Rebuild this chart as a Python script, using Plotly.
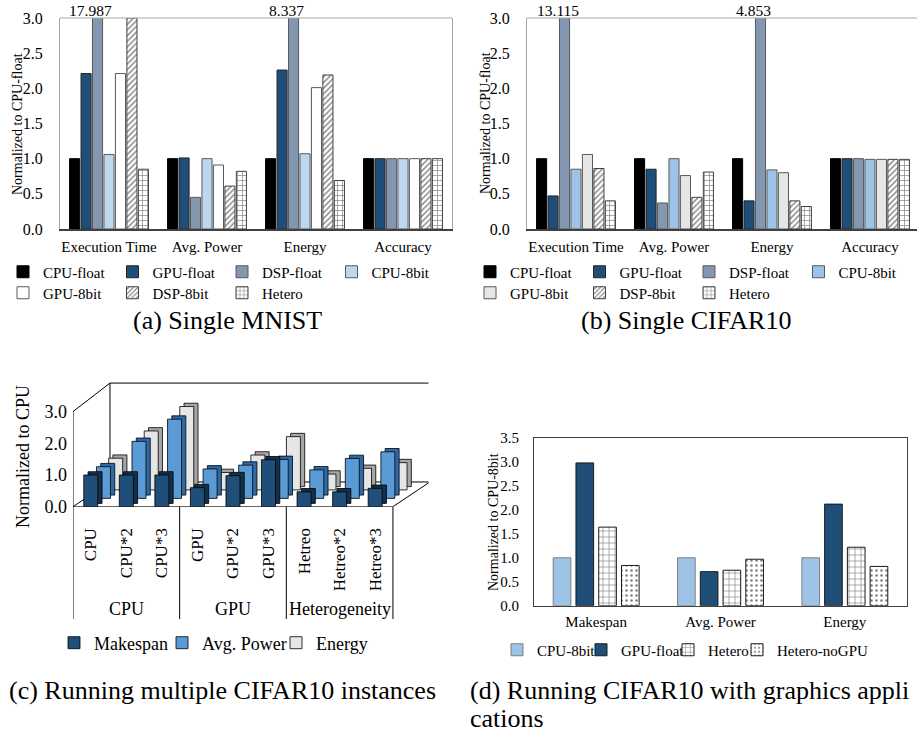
import plotly.graph_objects as go

W, H = 917, 732
FONT = "'Liberation Serif', 'Times New Roman', Times, serif"

# ---------------- data ----------------
# (a) Single MNIST / (b) Single CIFAR10, normalized to CPU-float
metrics_ab = ["Execution Time", "Avg. Power", "Energy", "Accuracy"]

mnist_cpu_float = [1.0, 1.0, 1.0, 1.0]
mnist_gpu_float = [2.21, 1.01, 2.26, 1.0]
mnist_dsp_float = [17.987, 0.45, 8.337, 1.0]
mnist_cpu_8bit = [1.06, 1.0, 1.07, 1.0]
mnist_gpu_8bit = [2.21, 0.91, 2.01, 1.0]
mnist_dsp_8bit = [3.0, 0.61, 2.19, 1.0]
mnist_hetero = [0.85, 0.82, 0.69, 1.0]

cifar_cpu_float = [1.0, 1.0, 1.0, 1.0]
cifar_gpu_float = [0.47, 0.85, 0.40, 1.0]
cifar_dsp_float = [13.115, 0.37, 4.853, 1.0]
cifar_cpu_8bit = [0.85, 1.0, 0.84, 0.99]
cifar_gpu_8bit = [1.06, 0.76, 0.80, 0.99]
cifar_dsp_8bit = [0.86, 0.45, 0.40, 0.99]
cifar_hetero = [0.40, 0.81, 0.32, 0.99]

# (c) Running multiple CIFAR10 instances, normalized to CPU
instances = ["CPU", "CPU*2", "CPU*3", "GPU", "GPU*2", "GPU*3", "Hetreo", "Hetreo*2", "Hetreo*3"]
instance_groups = ["CPU", "GPU", "Heterogeneity"]
makespan = [1.0, 1.0, 1.0, 0.6, 0.98, 1.48, 0.47, 0.47, 0.58]
avg_power = [1.0, 1.8, 2.5, 0.93, 1.05, 1.23, 0.9, 1.26, 1.47]
energy = [1.0, 1.86, 2.63, 0.55, 1.1, 1.68, 0.5, 0.68, 0.86]

# (d) Running CIFAR10 with graphics applications, normalized to CPU-8bit
metrics_d = ["Makespan", "Avg. Power", "Energy"]
d_cpu_8bit = [1.0, 1.0, 1.0]
d_gpu_float = [2.98, 0.71, 2.12]
d_hetero = [1.64, 0.74, 1.22]
d_hetero_nogpu = [0.84, 0.97, 0.82]


def fx(p):
    return p / W


def fy(p):
    return 1 - p / H


HATCH = dict(shape="/", fgcolor="#000000", bgcolor="#ffffff", size=4, solidity=0.35)
BRICK = dict(shape="+", fgcolor="#000000", bgcolor="#ffffff", size=5, solidity=0.25)
BRICK_D = dict(shape="+", fgcolor="#000000", bgcolor="#ffffff", size=6, solidity=0.2)
DOTS = dict(shape=".", fgcolor="#000000", bgcolor="#ffffff", size=5, solidity=0.2)

fig = go.Figure()


def marker(fill, line, pattern=None, lw=1):
    m = dict(color=fill, line=dict(color=line, width=lw))
    if pattern is not None:
        m["pattern"] = pattern
    return m


def add_grouped(series, xcats, xa, ya, width, pitch, legends):
    n = len(series)
    first = -pitch * n / 2 + (pitch - width) / 2
    centers = []
    for i, (name, vals, fill, line, pat) in enumerate(series):
        off = first + i * pitch
        centers.append(off + width / 2)
        fig.add_trace(go.Bar(
            x=xcats, y=vals, name=name, xaxis=xa, yaxis=ya,
            width=width, offset=off, marker=marker(fill, line, pat),
            legend=legends[i], hoverinfo="x+y+name",
        ))
    return centers


# ---- (a) ----
series_a = [
    ("CPU-float", mnist_cpu_float, "#000000", "#000000", None),
    ("GPU-float", mnist_gpu_float, "#1f4e79", "#262626", None),
    ("DSP-float", mnist_dsp_float, "#8497b0", "#595959", None),
    ("CPU-8bit", mnist_cpu_8bit, "#bdd7ee", "#595959", None),
    ("GPU-8bit", mnist_gpu_8bit, "#ffffff", "#595959", None),
    ("DSP-8bit", mnist_dsp_8bit, "#ffffff", "#404040", HATCH),
    ("Hetero", mnist_hetero, "#ffffff", "#404040", BRICK),
]
cent_a = add_grouped(series_a, metrics_ab, "x", "y", 0.103, 0.117,
                     ["legend"] * 4 + ["legend2"] * 3)

# ---- (b) ----
series_b = [
    ("CPU-float", cifar_cpu_float, "#000000", "#000000", None),
    ("GPU-float", cifar_gpu_float, "#1f4e79", "#262626", None),
    ("DSP-float", cifar_dsp_float, "#8497b0", "#595959", None),
    ("CPU-8bit", cifar_cpu_8bit, "#9dc3e6", "#595959", None),
    ("GPU-8bit", cifar_gpu_8bit, "#e7e6e6", "#595959", None),
    ("DSP-8bit", cifar_dsp_8bit, "#ffffff", "#404040", HATCH),
    ("Hetero", cifar_hetero, "#ffffff", "#404040", BRICK),
]
cent_b = add_grouped(series_b, metrics_ab, "x2", "y2", 0.103, 0.117,
                     ["legend3"] * 4 + ["legend4"] * 3)

# ---- (c) pseudo-3D columns ----
C_W = 0.394
SIDE_DX, SIDE_DY = 0.12, 0.104
ROWS = [  # back to front
    ("Energy", energy, "#e7e6e6", "#a6a6a6", 0.70, 0.53, 3, 60),
    ("Avg. Power", avg_power, "#5b9bd5", "#2e6aa8", 0.357, 0.262, 2, 69),
    ("Makespan", makespan, "#1f4e79", "#142f4a", 0.0, 0.0, 1, 63),
]
for name, vals, face, side, dx, dy, rank, lwid in ROWS:
    fig.add_trace(go.Bar(
        x=instances, y=vals, base=dy + SIDE_DY, offset=-C_W / 2 + dx + SIDE_DX, width=C_W,
        xaxis="x3", yaxis="y3", marker=marker(side, "#000000", lw=0.8),
        showlegend=False, hoverinfo="skip",
    ))
    fig.add_trace(go.Bar(
        x=instances, y=vals, base=dy, offset=-C_W / 2 + dx, width=C_W,
        xaxis="x3", yaxis="y3", name=name, marker=marker(face, "#000000", lw=0.8),
        legend="legend5", legendrank=rank, legendwidth=lwid,
    ))

# ---- (d) ----
series_d = [
    ("CPU-8bit", d_cpu_8bit, "#9dc3e6", "#7f7f7f", None),
    ("GPU-float", d_gpu_float, "#1f4e79", "#1a1a1a", None),
    ("Hetero", d_hetero, "#ffffff", "#1a1a1a", BRICK_D),
    ("Hetero-noGPU", d_hetero_nogpu, "#ffffff", "#1a1a1a", DOTS),
]
add_grouped(series_d, metrics_d, "x4", "y4", 0.142, 0.183, ["legend6"] * 4)
for tr, lw in zip(fig.data[-4:], [39, 42, 24, 90]):
    tr.legendwidth = lw

# ---------------- axes ----------------
GRAY = "#a6a6a6"


def tfont(size):
    return dict(family=FONT, size=size, color="#000000")


def cat_axis(domain, anchor, rng, standoff=3):
    return dict(domain=domain, anchor=anchor, range=rng, type="category",
                showgrid=False, zeroline=False, showline=True, linecolor="#404040",
                linewidth=1.5, ticks="", ticklabelstandoff=standoff,
                tickfont=tfont(15), fixedrange=True)


def val_axis(domain, anchor, rng, dtick, tstand=13, size=16):
    return dict(domain=domain, anchor=anchor, range=rng, dtick=dtick, tickformat=".1f",
                showgrid=False, zeroline=False, showline=True, mirror=True, linecolor=GRAY,
                ticks="", ticklabelstandoff=tstand, tickfont=tfont(size), fixedrange=True)


fig.update_layout(
    xaxis=cat_axis([fx(60), fx(452)], "y", [-0.5, 3.5]),
    yaxis=val_axis([fy(229), fy(18)], "x", [0, 3], 0.5),
    xaxis2=cat_axis([fx(527), 1.0], "y2", [-0.5, 3.48]),
    yaxis2=val_axis([fy(229), fy(18)], "x2", [0, 3], 0.5),
    xaxis3=dict(domain=[fx(73), fx(428.5)], anchor="y3", range=[-0.5, 9.5], type="category",
                showgrid=False, zeroline=False, showline=False, ticks="", tickangle=-90,
                ticklabelstandoff=17, tickfont=tfont(17), fixedrange=True),
    yaxis3=dict(domain=[fy(506.7), fy(379.9)], anchor="x3", range=[0, 4.0],
                tickvals=[0, 1, 2, 3], tickformat=".1f", showgrid=False, zeroline=False,
                showline=False, ticks="", ticklabelstandoff=5, tickfont=tfont(18),
                fixedrange=True),
    xaxis4=cat_axis([fx(534), fx(907)], "y4", [-0.5, 2.5], standoff=2),
    yaxis4=val_axis([fy(605.7), fy(438)], "x4", [0, 3.5], 0.5, tstand=11, size=15),
)
fig.layout.xaxis4.mirror = True
fig.layout.yaxis4.linecolor = "#404040"
fig.layout.xaxis4.linecolor = "#404040"
fig.layout.xaxis4.linewidth = 1

# ---------------- shapes ----------------
shapes = []
for xa, ya in [("x", "y"), ("x2", "y2")]:
    shapes.append(dict(type="line", xref=f"{xa} domain", yref=f"{ya} domain",
                       x0=0, x1=1, y0=1, y1=1, line=dict(color=GRAY, width=1)))

# (c) walls and floor
DEPTH_X, DEPTH_Y, WALL_TOP, BACK_TOP = 1.04, 0.78, 3.0, 3.9
n_c = len(instances)
L, R = -0.5, n_c - 0.5
wall_lines = [
    (L, 0, R, 0), (R, 0, R + DEPTH_X, DEPTH_Y), (L + DEPTH_X, DEPTH_Y, R + DEPTH_X, DEPTH_Y),
    (L, 0, L + DEPTH_X, DEPTH_Y), (L, 0, L, WALL_TOP), (L, WALL_TOP, L + DEPTH_X, BACK_TOP),
    (L + DEPTH_X, DEPTH_Y, L + DEPTH_X, BACK_TOP), (L + DEPTH_X, BACK_TOP, R + DEPTH_X, BACK_TOP),
    (R + DEPTH_X, BACK_TOP, R + DEPTH_X, DEPTH_Y),
]
for x0, y0, x1, y1 in wall_lines:
    shapes.append(dict(type="line", xref="x3", yref="y3", x0=x0, y0=y0, x1=x1, y1=y1,
                       layer="below", line=dict(color="#000000", width=1)))
for xs in [L, 2.5, 5.5, R]:
    shapes.append(dict(type="line", xref="x3", yref="paper", x0=xs, x1=xs,
                       y0=fy(506.7), y1=fy(619), line=dict(color="#000000", width=1)))
fig.update_layout(shapes=shapes)

# ---------------- annotations ----------------
ann = []
for xa, ya, dsp, cents, cw in [("x", "y", mnist_dsp_float, cent_a, 98.0),
                               ("x2", "y2", cifar_dsp_float, cent_b, 98.0)]:
    for i, v in enumerate(dsp):
        if v > 3:
            ann.append(dict(xref=xa, yref=ya, x=metrics_ab[i], y=3.0, text=f"{v:.3f}",
                            showarrow=False, xanchor="center", yanchor="bottom",
                            xshift=cents[2] * cw - 7, yshift=-3, font=tfont(15.5)))
for i, g in enumerate(instance_groups):
    ann.append(dict(xref="x3", yref="paper", x=instances[3 * i + 1], y=fy(609), text=g,
                    showarrow=False, xanchor="center", yanchor="middle", font=tfont(18)))


def ytitle(x, y, text, size):
    return dict(xref="paper", yref="paper", x=fx(x), y=fy(y), text=text, textangle=-90,
                showarrow=False, xanchor="center", yanchor="middle", font=tfont(size))


ann += [
    ytitle(18, 124, "Normalized to CPU-float", 14),
    ytitle(485, 123, "Normalized to CPU-float", 14),
    ytitle(23, 457, "Normalized to CPU", 18),
    ytitle(493, 522, "Normalized to CPU-8bit", 14),
]


def caption(x, y, text, xanchor="center"):
    return dict(xref="paper", yref="paper", x=fx(x), y=fy(y), text=text, showarrow=False,
                xanchor=xanchor, yanchor="middle", font=tfont(26))


ann += [
    caption(227, 320, "(a) Single MNIST"),
    caption(686, 320, "(b) Single CIFAR10"),
    caption(7, 690, "(c) Running multiple CIFAR10 instances", "left"),
    caption(468, 690, "(d) Running CIFAR10 with graphics appli", "left"),
    caption(468, 718, "cations", "left"),
]
fig.update_layout(annotations=ann)

# ---------------- legends ----------------
def legend_cfg(x_px, y_px, size, entrywidth=None):
    d = dict(x=fx(x_px), y=fy(y_px), xanchor="left", yanchor="middle", orientation="h",
             font=tfont(size), bgcolor="rgba(0,0,0,0)",
             borderwidth=0, tracegroupgap=0, itemclick=False, itemdoubleclick=False)
    if entrywidth:
        d["entrywidth"] = entrywidth
        d["entrywidthmode"] = "pixels"
    return d


fig.update_layout(
    legend=legend_cfg(3, 272, 15, 64.5),
    legend2=legend_cfg(3, 293, 15, 64.5),
    legend3=legend_cfg(470, 272, 15, 64.5),
    legend4=legend_cfg(470, 293, 15, 64.5),
    legend5=legend_cfg(54, 643, 18),
    legend6=legend_cfg(497, 650, 15),
)

fig.update_layout(
    width=W, height=H, margin=dict(l=0, r=0, t=0, b=0, autoexpand=False),
    paper_bgcolor="#ffffff", plot_bgcolor="rgba(0,0,0,0)",
    barmode="overlay", showlegend=True,
    font=dict(family=FONT, color="#000"),
)

fig.write_html("out.html",
               config={"displayModeBar": False},
               post_script="document.body.style.margin='0px';"
                           "document.body.style.overflow='hidden';")
